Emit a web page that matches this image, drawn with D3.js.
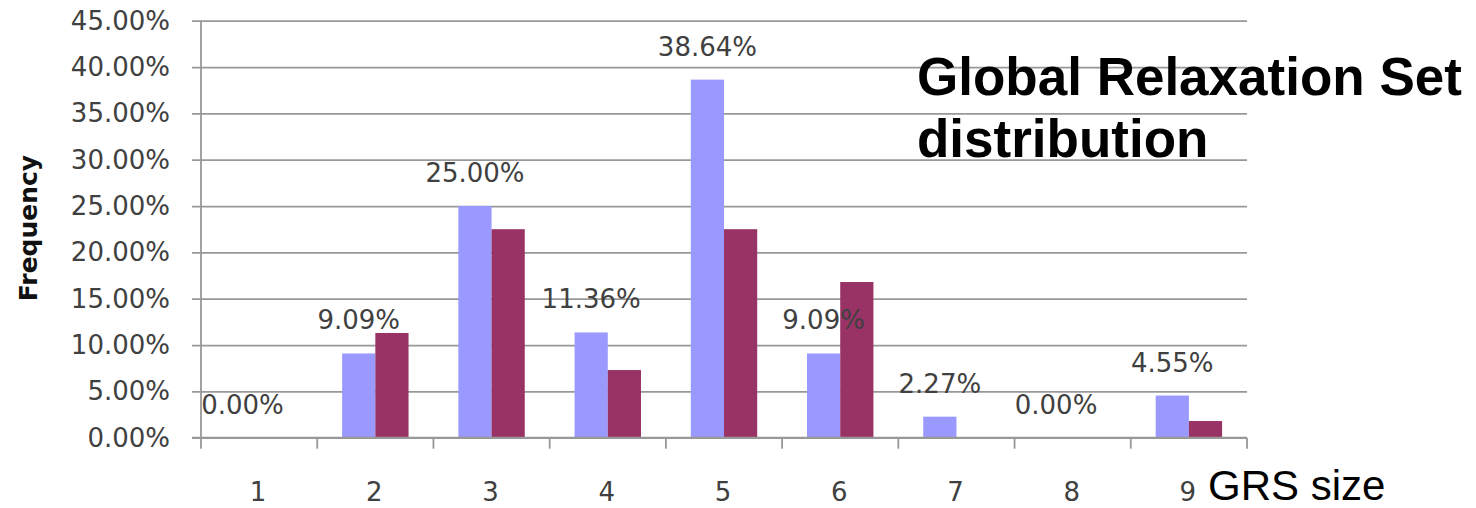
<!DOCTYPE html>
<html>
<head>
<meta charset="utf-8">
<script src="https://cdn.jsdelivr.net/npm/d3@7"></script>
<style>
  html, body { margin: 0; padding: 0; background: #fff; }
  svg { display: block; }
</style>
</head>
<body>
<svg id="chart" width="1476" height="508"></svg>
<script>
const categories = ["1", "2", "3", "4", "5", "6", "7", "8", "9"];
const seriesA = [0.0, 9.09, 25.0, 11.36, 38.64, 9.09, 2.27, 0.0, 4.55];   // labelled series (blue)
const seriesB = [0.0, 11.3, 22.5, 7.3, 22.5, 16.8, 0.0, 0.0, 1.8];      // second series (purple)
const dataLabels = ["0.00%", "9.09%", "25.00%", "11.36%", "38.64%", "9.09%", "2.27%", "0.00%", "4.55%"];
const yTicks = [0, 5, 10, 15, 20, 25, 30, 35, 40, 45];
const titleLines = ["Global Relaxation Set", "distribution"];
const xTitle = "GRS size";
const yTitle = "Frequency";

(function () {
const svg = d3.select("#chart");
const plotL = 201, plotR = 1247, plotT = 20.7, plotB = 437.7;

const x = d3.scaleBand().domain(categories).range([plotL, plotR]).padding(0);
const y = d3.scaleLinear().domain([0, 45]).range([plotB, plotT]);
const barW = x.bandwidth() / 3.5;
const inner = d3.scaleBand().domain(["A", "B"]).range([x.bandwidth() / 2 - barW, x.bandwidth() / 2 + barW]).padding(0);

const gridColor = "#989898";
const textColor = "#404040";

// gridlines + y axis
const yAxis = d3.axisLeft(y).tickValues(yTicks).tickSize(9).tickPadding(22)
  .tickFormat(d => d.toFixed(2) + "%");
const gy = svg.append("g").attr("transform", `translate(${plotL},0)`).call(yAxis);
gy.select(".domain").remove();
gy.selectAll(".tick line").attr("stroke", gridColor).attr("stroke-width", 1.8)
  .attr("x2", -9).attr("x1", plotR - plotL);
gy.selectAll(".tick text").attr("fill", textColor)
  .style("font-family", "'DejaVu Sans', sans-serif").style("font-size", "26px");

// bars
const rows = categories.map((c, i) => ({ c, a: seriesA[i], b: seriesB[i], label: dataLabels[i] }));
const groups = svg.append("g").selectAll("g").data(rows).join("g")
  .attr("transform", d => `translate(${x(d.c)},0)`);
groups.append("rect")
  .attr("x", inner("A")).attr("width", inner.bandwidth())
  .attr("y", d => y(d.a)).attr("height", d => y(0) - y(d.a))
  .attr("fill", "#9999FF");
groups.append("rect")
  .attr("x", inner("B")).attr("width", inner.bandwidth())
  .attr("y", d => y(d.b)).attr("height", d => y(0) - y(d.b))
  .attr("fill", "#993366");

// axis lines
svg.append("line").attr("x1", plotL).attr("x2", plotL).attr("y1", plotT).attr("y2", plotB + 11)
  .attr("stroke", gridColor).attr("stroke-width", 1.8);
svg.append("line").attr("x1", plotL - 9).attr("x2", plotR).attr("y1", plotB).attr("y2", plotB)
  .attr("stroke", gridColor).attr("stroke-width", 1.8);
// x ticks at category boundaries
const bounds = categories.map(c => x(c) + x.bandwidth());
svg.append("g").selectAll("line").data(bounds).join("line")
  .attr("x1", d => d).attr("x2", d => d).attr("y1", plotB).attr("y2", plotB + 11)
  .attr("stroke", gridColor).attr("stroke-width", 1.8);

// x tick labels
const xAxis = d3.axisBottom(x).tickSize(0).tickPadding(45);
const gx = svg.append("g").attr("transform", `translate(0,${plotB})`).call(xAxis);
gx.select(".domain").remove();
gx.selectAll(".tick text").attr("fill", textColor).attr("dx", "-1")
  .style("font-family", "'DejaVu Sans', sans-serif").style("font-size", "26px");

// data labels
groups.append("text")
  .attr("x", inner("A") + inner.bandwidth() / 2)
  .attr("y", d => y(d.a) - 24)
  .attr("text-anchor", "middle")
  .attr("fill", textColor)
  .style("font-family", "'DejaVu Sans', sans-serif").style("font-size", "26px")
  .text(d => d.label);

// y title
svg.append("text")
  .attr("transform", `translate(37,228) rotate(-90)`)
  .attr("text-anchor", "middle")
  .attr("fill", "#111")
  .style("font-family", "'DejaVu Sans', sans-serif").style("font-size", "25px").style("font-weight", "bold")
  .text(yTitle);

// x title
svg.append("text").attr("x", 1208).attr("y", 500)
  .attr("fill", "#000")
  .style("font-family", "'Liberation Sans', Arial, sans-serif").style("font-size", "42px")
  .text(xTitle);

// chart title
svg.append("g").selectAll("text").data(titleLines).join("text")
  .attr("x", 917).attr("y", (d, i) => 95 + i * 62)
  .attr("fill", "#000")
  .style("font-family", "'Liberation Sans', Arial, sans-serif").style("font-size", "53px").style("font-weight", "bold")
  .text(d => d);
})();
</script>
</body>
</html>
